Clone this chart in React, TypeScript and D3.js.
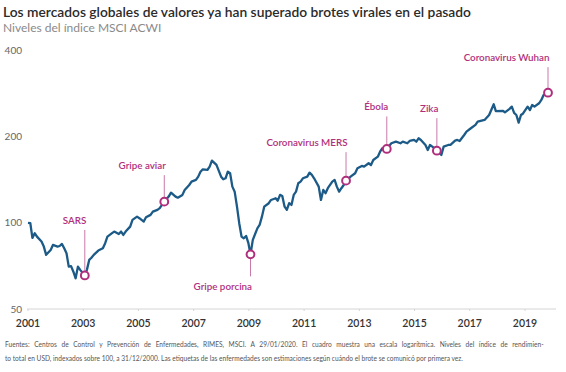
import React from "react";
import * as d3 from "d3";

const title = "Los mercados globales de valores ya han superado brotes virales en el pasado";
const subtitle = "Niveles del índice MSCI ACWI";
const footnote1 =
  "Fuentes: Centros de Control y Prevención de Enfermedades, RIMES, MSCI. A 29/01/2020. El cuadro muestra una escala logarítmica.  Niveles del índice de rendimien-";
const footnote2 =
  "to total en USD, indexados sobre 100, a 31/12/2000. Las etiquetas de las enfermedades son estimaciones según cuándo el brote se comunicó por primera vez.";

const yTicks = [50, 100, 200, 400];
const xTickYears = ["2001", "2003", "2005", "2007", "2009", "2011", "2013", "2015", "2017", "2019"];

// MSCI ACWI total return index (31/12/2000 = 100)
const series: [string, number][] = [
  ["2001-01", 100], ["2001-02", 99.7], ["2001-03", 88.6], ["2001-04", 92], ["2001-05", 89.5],
  ["2001-07", 86], ["2001-08", 82.6], ["2001-09", 77.3], ["2001-11", 80.4], ["2001-12", 83.7],
  ["2002-02", 82.6], ["2002-03", 83], ["2002-04", 84.4], ["2002-05", 81.5], ["2002-06", 78.3],
  ["2002-07", 70.3], ["2002-08", 70.6], ["2002-09", 67.5], ["2002-10", 64], ["2002-11", 70.3],
  ["2002-12", 68.5], ["2003-02", 65.5], ["2003-03", 68.5], ["2003-04", 74.2], ["2003-05", 75.5],
  ["2003-06", 77.3], ["2003-08", 80], ["2003-10", 81.5], ["2003-11", 84.9], ["2003-12", 89.5],
  ["2004-02", 92], ["2004-03", 93.2], ["2004-05", 91.4], ["2004-06", 93.2], ["2004-07", 90.7],
  ["2004-08", 93.2], ["2004-10", 97], ["2004-11", 102.4], ["2005-01", 105.1], ["2005-02", 103.8],
  ["2005-04", 101], ["2005-05", 104.6], ["2005-07", 106.6], ["2005-08", 109.4], ["2005-10", 111],
  ["2005-11", 112.5], ["2005-12", 115.5], ["2006-01", 118.6], ["2006-03", 123.5], ["2006-04", 127.5],
  ["2006-06", 123.5], ["2006-07", 122.4], ["2006-09", 125.2], ["2006-10", 130.3], ["2006-12", 135.6],
  ["2007-01", 139.3], ["2007-03", 141.2], ["2007-04", 145], ["2007-05", 150.9], ["2007-06", 153.8],
  ["2007-08", 153], ["2007-09", 157.1], ["2007-10", 164.9], ["2007-12", 159.3], ["2008-02", 145],
  ["2008-03", 142], ["2008-04", 143.1], ["2008-05", 150.9], ["2008-06", 149], ["2008-07", 133.8],
  ["2008-08", 128.5], ["2008-09", 113.9], ["2008-10", 99.7], ["2008-11", 89.5], ["2008-12", 88.3],
  ["2009-01", 90], ["2009-02", 84.9], ["2009-03", 77.6], ["2009-04", 87.2], ["2009-06", 95.7],
  ["2009-07", 98.3], ["2009-08", 105.1], ["2009-09", 113.9], ["2009-11", 117.1], ["2009-12", 120.2],
  ["2010-02", 121.9], ["2010-03", 119.5], ["2010-04", 125.2], ["2010-05", 124.1], ["2010-06", 113.9],
  ["2010-07", 111], ["2010-08", 117.1], ["2010-09", 115.5], ["2010-10", 125.2], ["2010-11", 128.5],
  ["2010-12", 137.5], ["2011-01", 139.3], ["2011-02", 143.1], ["2011-04", 145], ["2011-05", 149.7],
  ["2011-06", 147], ["2011-07", 143.1], ["2011-09", 133.8], ["2011-10", 120.2], ["2011-11", 130.3],
  ["2011-12", 126.9], ["2012-01", 132.1], ["2012-03", 139.3], ["2012-04", 141.2], ["2012-05", 133.8],
  ["2012-06", 128.5], ["2012-07", 132.1], ["2012-08", 135.6], ["2012-09", 140.4], ["2012-11", 145],
  ["2013-01", 149], ["2013-02", 155.1], ["2013-04", 158], ["2013-05", 157.1], ["2013-07", 161.5],
  ["2013-08", 159.3], ["2013-09", 165.8], ["2013-11", 170.3], ["2013-12", 177.2], ["2014-01", 182.2],
  ["2014-02", 178.7], ["2014-03", 181.2], ["2014-05", 189.7], ["2014-07", 192.1], ["2014-09", 189.7],
  ["2014-10", 192.1], ["2014-12", 189.7], ["2015-01", 193.2], ["2015-03", 194.8], ["2015-04", 192.1],
  ["2015-05", 197.4], ["2015-06", 194.8], ["2015-08", 187.1], ["2015-09", 179.7], ["2015-10", 187.1],
  ["2015-11", 184.6], ["2015-12", 182.2], ["2016-01", 178.7], ["2016-03", 172.6], ["2016-04", 184.6],
  ["2016-06", 187.1], ["2016-07", 187.1], ["2016-09", 193.7], ["2016-10", 194.8], ["2016-11", 193.2],
  ["2017-01", 202.7], ["2017-02", 208.2], ["2017-04", 214], ["2017-06", 219.8], ["2017-07", 225.6],
  ["2017-10", 228.8], ["2017-12", 238.1], ["2018-02", 259.6], ["2018-03", 245.7], ["2018-06", 246.2],
  ["2018-07", 243.3], ["2018-09", 250], ["2018-10", 254.6], ["2018-11", 242], ["2018-12", 238.1],
  ["2019-01", 223.8], ["2019-02", 238.1], ["2019-03", 241], ["2019-05", 254.6], ["2019-06", 247.9],
  ["2019-07", 258.1], ["2019-08", 254.6], ["2019-10", 261.6], ["2019-11", 268.7], ["2019-12", 279.7],
  ["2020-01-29", 284.9],
];

const eventNames = ["SARS", "Gripe aviar", "Gripe porcina", "Coronavirus MERS", "Ébola", "Zika", "Coronavirus Wuhan"];
const eventDates = ["2003-02", "2006-01", "2009-03", "2012-09", "2014-03", "2016-01", "2020-01-29"];
// layout: vertical offset of each label from its marker (negative = above)
const eventLabelOffsets = [-55, -36, 32, -38, -42, -42, -35];

const W = 566;
const H = 372;
const BLUE = "#1c5a87";
const MAGENTA = "#b02f7c";
const LEADER = "#c87aa8";

const parse = (s: string) => (s.length > 7 ? d3.timeParse("%Y-%m-%d")(s)! : d3.timeParse("%Y-%m")(s)!);

export default function App() {
  const data = series.map(([d, v]) => ({ date: parse(d), value: v }));
  const x = d3
    .scaleTime()
    .domain([parse("2001-01"), parse("2020-01-29")])
    .range([28, 548]);
  const y = d3.scaleLog().domain([50, 400]).range([309, 50.5]);
  const xLabel = d3.scalePoint<string>().domain(xTickYears).range([28, 525]);

  const line = d3
    .line<{ date: Date; value: number }>()
    .x((d) => x(d.date))
    .y((d) => y(d.value))
    .curve(d3.curveLinear);

  const valueMap = new Map(series.map(([d, v]) => [d, v]));

  const font = "Lato, 'Open Sans', sans-serif";

  return (
    <svg width={W} height={H} style={{ position: "absolute", left: 0, top: 0, background: "#fff" }} fontFamily={font}>
      <rect x={0} y={0} width={W} height={H} fill="#fff" />
      <text x={3} y={17} fontSize={13.8} fontWeight={600} fill="#2b2b2b">
        {title}
      </text>
      <text x={3} y={31.5} fontSize={12} fill="#8a8a8a">
        {subtitle}
      </text>

      {/* baseline grid at 50 */}
      <line x1={27} x2={556} y1={y(50)} y2={y(50)} stroke="#d4d4d4" strokeWidth={1} />
      {xTickYears.map((yr) => (
        <line key={"t" + yr} x1={xLabel(yr)} x2={xLabel(yr)} y1={y(50)} y2={y(50) + 2} stroke="#d4d4d4" />
      ))}

      {yTicks.map((t) => (
        <text key={t} x={22} y={y(t)} dy="0.35em" textAnchor="end" fontSize={10} fill="#666">
          {t}
        </text>
      ))}

      {xTickYears.map((yr) => (
        <text key={yr} x={xLabel(yr)} y={327} textAnchor="middle" fontSize={10.5} fontWeight={600} fill="#333">
          {yr}
        </text>
      ))}

      <path d={line(data) || ""} fill="none" stroke={BLUE} strokeWidth={2.3} strokeLinejoin="round" />

      {eventNames.map((name, i) => {
        const d = parse(eventDates[i]);
        const v = valueMap.get(eventDates[i])!;
        const cx = x(d);
        const cy = y(v);
        const off = eventLabelOffsets[i];
        const ly = cy + off;
        const above = off < 0;
        const l1 = above ? ly + 9.5 : cy + 4.5;
        const l2 = above ? cy - 4.5 : ly - 10;
        return (
          <g key={name}>
            <line x1={cx} x2={cx} y1={l1} y2={l2} stroke={LEADER} strokeWidth={1} />
            <text x={cx + 1.5} y={ly} dy="0.35em" textAnchor="end" fontSize={9.8} fontWeight={600} fill={MAGENTA}>
              {name}
            </text>
            <circle cx={cx} cy={cy} r={3.9} fill="#fff" stroke={MAGENTA} strokeWidth={2} />
          </g>
        );
      })}

      <text x={5} y={346.5} fontSize={6.6} fill="#555" style={{ wordSpacing: "2.9px" }}>
        {footnote1}
      </text>
      <text x={5} y={360.5} fontSize={6.6} fill="#555">
        {footnote2}
      </text>
    </svg>
  );
}
